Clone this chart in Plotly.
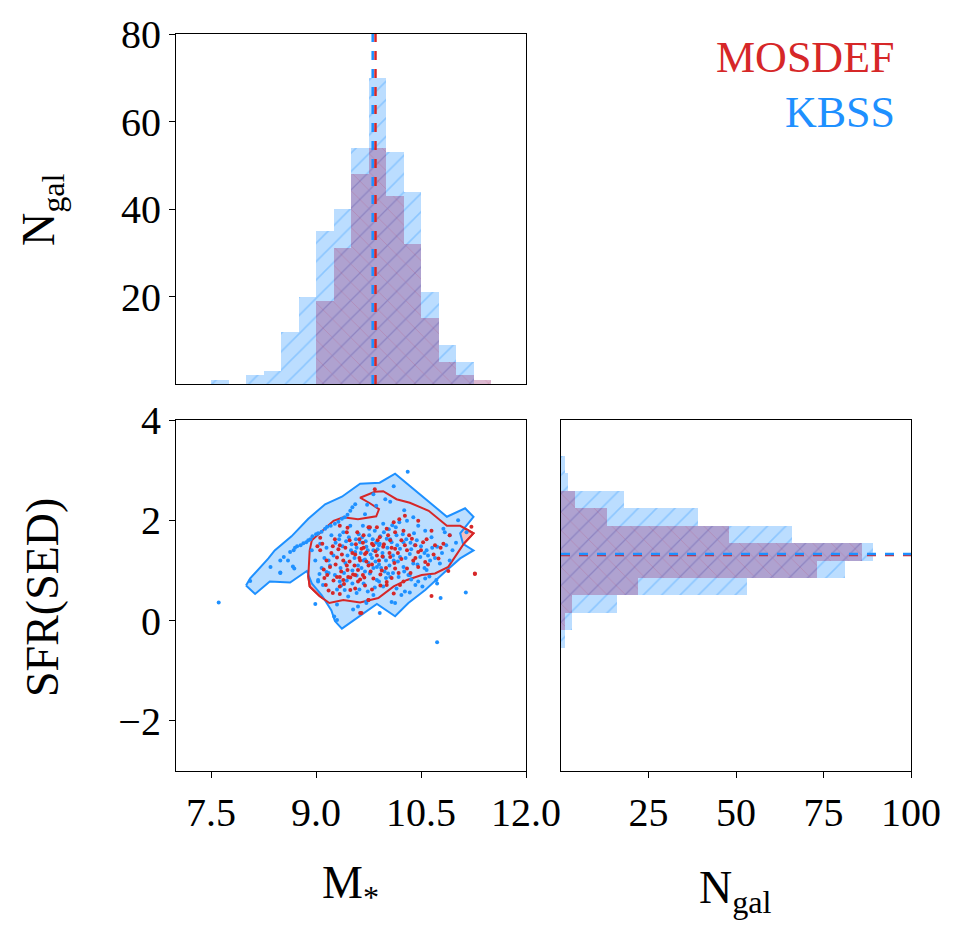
import plotly.graph_objects as go

# ---------------- data ----------------
# stellar-mass histogram (bin edges start 7.5, width 0.25)
MASS_BIN_START = 7.5
MASS_BIN_WIDTH = 0.25
KBSS_MASS_COUNTS = [1, 0, 2, 3, 12, 20, 35, 40, 54, 70, 53, 44, 21, 9, 5, 0]
MOSDEF_MASS_COUNTS = [0, 0, 0, 0, 0, 0, 19, 31, 48, 54, 43, 32, 15, 5, 2, 1]

# SFR histogram (bin edges start -0.54, width 0.3475)
SFR_BIN_START = -0.54
SFR_BIN_WIDTH = 0.3475
KBSS_SFR_COUNTS = [1, 3, 16, 53, 81, 89, 66, 39, 18, 2, 1]
MOSDEF_SFR_COUNTS = [0, 1, 3, 22, 73, 86, 48, 13, 4, 0, 0]

# medians
KBSS_MASS_MED = 9.81
MOSDEF_MASS_MED = 9.85
KBSS_SFR_MED = 1.33
MOSDEF_SFR_MED = 1.31

# contours
KBSS_CONTOUR_M = [8.00, 8.06, 8.32, 8.41, 8.65, 8.89, 9.13, 9.37, 9.63, 9.91, 10.13, 10.87,
                  11.13, 11.25, 11.06, 11.10, 11.25, 11.06, 10.84, 10.56, 10.32, 10.13, 9.87,
                  9.60, 9.37, 9.27, 9.22, 9.08, 8.94, 8.87, 8.63, 8.34, 8.13, 8.00]
KBSS_CONTOUR_SFR = [0.70, 0.84, 1.24, 1.40, 1.68, 2.03, 2.32, 2.47, 2.73, 2.75, 2.93, 2.07,
                    2.24, 2.07, 1.74, 1.53, 1.40, 1.24, 0.97, 0.61, 0.35, 0.085, 0.33,
                    0.06, -0.16, -0.01, 0.20, 0.51, 0.74, 0.99, 0.76, 0.78, 0.53, 0.70]
MOSDEF_CONTOUR_M = [8.91, 8.89, 8.91, 9.05, 9.19, 9.39, 9.63, 9.89, 10.11, 10.30, 10.51, 10.70,
                    10.89, 11.01, 11.11, 11.25, 11.06, 10.87, 10.61, 10.34, 10.15, 9.96, 9.84,
                    9.63, 9.77, 9.90, 9.86, 9.60, 9.39, 9.25, 9.06, 8.94, 8.91]
MOSDEF_CONTOUR_SFR = [1.40, 0.88, 0.68, 0.49, 0.35, 0.41, 0.36, 0.45, 0.68, 0.81, 0.91, 0.94,
                      1.07, 1.33, 1.53, 1.74, 1.89, 1.89, 2.19, 2.35, 2.42, 2.58, 2.57,
                      2.45, 2.34, 2.22, 2.08, 2.02, 2.06, 1.99, 1.76, 1.60, 1.40]

# scatter points
KBSS_M = [7.61, 8.06, 8.35, 8.49, 8.49, 8.54, 8.63, 8.68, 8.70, 8.73, 8.78, 8.82, 8.86, 8.89, 8.92,
          8.95, 9.00, 9.03, 9.08, 9.13, 9.16, 9.21, 9.27, 9.32, 9.37, 9.41, 9.45, 9.49, 9.52, 9.56,
          8.67, 8.60, 8.69, 8.94, 9.06, 9.15, 9.22, 9.34, 9.39, 9.49, 8.99, 9.18, 9.05, 9.03, 9.10,
          9.27, 9.56, 9.63,
          10.31, 10.11, 9.82, 9.99, 10.06, 9.73, 9.86, 9.70, 9.67, 9.76, 9.84, 9.96, 10.26, 10.30,
          10.39, 10.46, 10.56, 10.65, 10.82, 10.84, 10.91, 11.03, 11.15, 10.73, 10.58, 10.41, 10.25,
          10.15, 10.08, 10.01, 9.91, 10.20, 10.34, 10.49, 10.63, 10.77, 10.91, 10.39, 10.25, 10.11,
          9.96, 9.82, 9.72, 9.87, 10.03, 10.18, 10.32, 10.58, 10.72, 9.77, 9.68,
          8.49, 8.99, 9.30, 9.26, 9.30, 9.53, 9.60, 9.72, 9.03, 9.34, 9.46, 9.41, 9.58, 9.15, 9.68,
          9.91, 10.08, 10.13, 10.22, 10.27, 10.34, 10.42, 10.56, 10.73, 10.78, 10.73, 11.14, 9.82,
          9.72, 10.06, 10.15, 9.96, 9.87, 10.34,
          9.65, 9.70, 9.75, 9.80, 9.85, 9.90, 9.95, 10.00, 10.05, 10.10, 9.78, 9.88, 9.93, 10.02,
          9.60, 9.55, 9.50, 9.45, 9.42, 9.35, 9.70, 9.82, 10.17, 10.20, 9.98, 9.52, 9.58,
          9.28, 9.33, 9.38, 9.43, 9.47, 9.51, 9.57, 9.61, 9.66, 9.71, 9.76, 9.81, 9.86, 9.92,
          9.97, 10.04, 10.09, 10.14, 10.19, 10.24, 10.29, 10.35, 10.40, 10.44, 10.50, 10.55, 10.60,
          10.66, 10.70, 10.80, 10.86, 10.95, 11.00, 9.30, 9.36, 9.44, 9.52, 9.62, 9.74, 9.84,
          9.90, 10.00, 10.10, 10.26, 10.36, 10.46, 10.52, 10.62, 9.25, 9.20, 9.12, 9.18, 9.08,
          9.40, 9.58, 9.64, 9.74, 9.90, 10.06, 10.16, 10.28, 10.36, 10.45, 10.55]
KBSS_SFR = [0.36, 0.79, 1.07, 0.96, 1.20, 1.27, 1.37, 1.40, 1.45, 1.48, 1.50, 1.54, 1.56, 1.60, 1.62,
            1.68, 1.72, 1.74, 1.77, 1.83, 1.87, 1.89, 1.93, 1.97, 2.03, 2.06, 2.11, 2.19, 2.26, 2.32,
            1.08, 1.20, 1.04, 1.40, 1.53, 1.45, 1.70, 1.70, 1.76, 1.89, 1.20, 1.20, 0.93, 0.78, 0.71,
            0.91, 1.37, 1.56,
            2.97, 2.68, 2.52, 2.42, 2.37, 2.31, 2.29, 2.12, 1.89, 1.83, 1.79, 1.93, 2.20, 1.99,
            2.06, 1.89, 1.79, 1.66, 1.83, 1.76, 1.70, 2.00, 1.76, 1.47, 1.40, 1.50, 1.56,
            1.70, 1.56, 1.63, 1.53, 1.43, 1.33, 1.27, 1.20, 1.14, 1.20, 1.14, 1.07, 1.20,
            1.27, 1.40, 1.47, 1.07, 0.94, 0.87, 0.91, 1.01, 0.81, 0.94, 1.20,
            0.95, 0.33, 0.32, 0.08, 0.01, 0.22, 0.28, 0.38, 0.81, 0.78, 0.48, 0.61, 0.55, 0.97, 0.74,
            0.15, 0.37, 0.35, 0.51, 0.58, 0.56, 0.71, 0.84, 0.74, 0.45, -0.43, 0.56, 0.51,
            0.35, 0.87, 0.64, 0.68, 0.81, 0.91,
            1.05, 1.22, 1.15, 1.25, 1.18, 1.12, 1.35, 1.20, 1.10, 1.30, 1.32, 1.42, 1.05, 1.45,
            1.10, 1.25, 1.40, 1.30, 1.15, 1.05, 0.98, 1.05, 1.18, 1.27, 0.98, 1.00, 0.90,
            1.55, 1.62, 1.48, 1.58, 1.66, 1.52, 1.62, 1.72, 1.66, 1.58, 1.70, 1.62, 1.55, 1.68,
            1.76, 1.82, 1.90, 1.86, 1.96, 1.72, 1.62, 1.55, 1.74, 1.60, 1.48, 1.35, 1.30,
            1.45, 1.25, 1.35, 1.50, 1.40, 1.55, 0.62, 0.70, 0.80, 0.74, 0.62, 0.58, 0.66,
            0.78, 0.85, 0.95, 0.98, 0.82, 0.78, 0.68, 0.88, 1.30, 1.10, 1.25, 0.95, 1.05,
            0.95, 1.45, 1.35, 1.40, 1.50, 1.62, 1.50, 1.25, 1.42, 1.12, 1.05]
MOSDEF_M = [9.06, 9.09, 9.24, 9.34, 9.44, 9.48, 9.59, 9.30, 9.20, 9.11, 9.06, 9.39, 9.45, 9.49,
            9.34, 9.25, 9.40, 9.56, 9.63, 9.60, 9.69, 9.65, 9.75, 9.02, 9.16, 9.34,
            9.84, 10.11, 10.19, 10.27, 10.01, 9.87, 9.77, 10.13, 10.25, 10.46, 10.65, 10.91, 11.22,
            11.27, 9.91, 10.06, 10.22, 10.37, 10.53, 10.70, 10.82, 9.68, 9.80, 9.96, 10.13, 10.30,
            10.46, 9.70, 9.87, 10.06, 10.22, 10.39, 10.56, 10.75, 9.75, 9.94, 10.13, 10.30, 10.46,
            9.82, 10.01, 10.20, 9.67,
            9.14, 9.18, 9.24, 9.34, 9.34, 9.39, 9.46, 9.56, 9.63, 9.56, 9.75, 9.63, 9.30, 9.49,
            10.65, 11.27, 10.01, 10.11, 9.75, 9.65, 10.25, 10.89,
            9.72, 9.80, 9.90, 9.95, 10.05, 9.85, 9.62, 9.55, 9.48, 10.00, 9.78, 9.68, 10.12, 9.92,
            9.22, 9.27, 9.32, 9.37, 9.42, 9.52, 9.57, 9.62, 9.67, 9.72, 9.82, 9.88, 9.97, 10.03,
            10.08, 10.17, 10.27, 10.33, 10.42, 10.50, 10.58, 10.68, 10.78, 9.28, 9.36, 9.44, 9.53,
            9.60, 9.70, 9.80, 9.92, 10.08, 10.18, 10.35, 10.42, 10.60, 9.15, 9.12, 9.45]
MOSDEF_SFR = [1.65, 1.53, 1.48, 1.89, 1.76, 1.60, 1.76, 1.26, 1.07, 1.02, 1.40, 1.20, 1.01, 0.86,
              0.87, 0.80, 0.73, 1.32, 1.20, 1.01, 0.86, 1.43, 1.86, 1.48, 0.91, 1.50,
              2.62, 1.96, 2.02, 2.09, 1.83, 1.86, 1.86, 1.76, 1.79, 1.99, 1.79, 1.70, 1.87,
              0.94, 1.66, 1.60, 1.60, 1.63, 1.56, 1.50, 1.53, 1.70, 1.53, 1.47, 1.43, 1.40,
              1.37, 1.33, 1.30, 1.27, 1.23, 1.20, 1.17, 1.24, 1.10, 1.00, 1.04, 1.04, 1.07,
              0.84, 0.77, 0.71, 0.91,
              0.71, 0.60, 0.55, 0.53, 0.68, 0.81, 0.87, 0.91, 0.82, 0.64, 0.41, 0.15, 0.87, 0.61,
              0.49, 0.93, 0.71, 0.54, 0.41, 0.15, 0.78, 0.99,
              1.18, 1.12, 1.20, 1.28, 1.35, 1.38, 1.25, 1.10, 1.18, 1.05, 0.98, 1.45, 1.15, 0.92,
              1.35, 1.62, 1.42, 1.32, 1.45, 1.35, 1.52, 1.62, 1.55, 1.36, 1.50, 1.60, 1.52, 1.70,
              1.45, 1.35, 1.50, 1.70, 1.50, 1.40, 1.62, 1.32, 1.45, 1.12, 0.98, 1.10, 0.92,
              0.78, 0.70, 0.62, 0.70, 0.85, 0.95, 0.95, 1.25, 1.12, 1.20, 0.85, 1.85]

# ---------------- styling ----------------
BLUE = "#1E90FF"
RED = "#D62728"
FONT = "Liberation Serif"

mass_centers = [MASS_BIN_START + MASS_BIN_WIDTH * (i + 0.5) for i in range(len(KBSS_MASS_COUNTS))]
sfr_centers = [SFR_BIN_START + SFR_BIN_WIDTH * (i + 0.5) for i in range(len(KBSS_SFR_COUNTS))]

fig = go.Figure()

blue_bar = dict(color="rgba(30,144,255,0.30)",
                pattern=dict(shape="/", fgcolor="rgba(30,144,255,0.6)", size=13,
                             solidity=0.12, fillmode="overlay"),
                line=dict(width=0))
red_bar = dict(color="rgba(150,50,120,0.35)",
               pattern=dict(shape="x", fgcolor="rgba(190,50,90,0.45)", size=13,
                            solidity=0.12, fillmode="overlay"),
               line=dict(width=0))

# top histogram
fig.add_trace(go.Bar(x=mass_centers, y=KBSS_MASS_COUNTS, width=MASS_BIN_WIDTH,
                     marker=blue_bar, xaxis="x", yaxis="y", showlegend=False))
fig.add_trace(go.Bar(x=mass_centers, y=MOSDEF_MASS_COUNTS, width=MASS_BIN_WIDTH,
                     marker=red_bar, xaxis="x", yaxis="y", showlegend=False))

# right histogram
fig.add_trace(go.Bar(y=sfr_centers, x=KBSS_SFR_COUNTS, width=SFR_BIN_WIDTH, orientation="h",
                     marker=blue_bar, xaxis="x3", yaxis="y3", showlegend=False))
fig.add_trace(go.Bar(y=sfr_centers, x=MOSDEF_SFR_COUNTS, width=SFR_BIN_WIDTH, orientation="h",
                     marker=red_bar, xaxis="x3", yaxis="y3", showlegend=False))

# contours
fig.add_trace(go.Scatter(x=MOSDEF_CONTOUR_M, y=MOSDEF_CONTOUR_SFR, mode="lines", fill="toself",
                         fillcolor="#F3BEBE", line=dict(color=RED, width=2),
                         xaxis="x2", yaxis="y2", showlegend=False))
fig.add_trace(go.Scatter(x=KBSS_CONTOUR_M, y=KBSS_CONTOUR_SFR, mode="lines", fill="toself",
                         fillcolor="#BBDEFF", line=dict(color=BLUE, width=2),
                         xaxis="x2", yaxis="y2", showlegend=False))
fig.add_trace(go.Scatter(x=MOSDEF_CONTOUR_M, y=MOSDEF_CONTOUR_SFR, mode="lines",
                         line=dict(color=RED, width=2),
                         xaxis="x2", yaxis="y2", showlegend=False))

# points
fig.add_trace(go.Scatter(x=KBSS_M, y=KBSS_SFR, mode="markers",
                         marker=dict(color=BLUE, size=4, line=dict(width=0)),
                         xaxis="x2", yaxis="y2", showlegend=False))
fig.add_trace(go.Scatter(x=MOSDEF_M, y=MOSDEF_SFR, mode="markers",
                         marker=dict(color=RED, size=4, line=dict(width=0)),
                         xaxis="x2", yaxis="y2", showlegend=False))

# median lines
shapes = [
    dict(type="line", xref="x", yref="y domain", x0=KBSS_MASS_MED, x1=KBSS_MASS_MED, y0=0, y1=1,
         line=dict(color=BLUE, width=2.5, dash="dash")),
    dict(type="line", xref="x", yref="y domain", x0=MOSDEF_MASS_MED, x1=MOSDEF_MASS_MED, y0=0, y1=1,
         line=dict(color=RED, width=2.5, dash="dash")),
    dict(type="line", xref="x3 domain", yref="y3", x0=0, x1=1, y0=MOSDEF_SFR_MED, y1=MOSDEF_SFR_MED,
         line=dict(color=RED, width=2.5, dash="dash")),
    dict(type="line", xref="x3 domain", yref="y3", x0=0, x1=1, y0=KBSS_SFR_MED, y1=KBSS_SFR_MED,
         line=dict(color=BLUE, width=2.5, dash="dash")),
]

W, H = 976, 949
OFF = 8  # page body margin
def px_x(a, b):
    return [(a - OFF) / W, (b - OFF) / W]
def px_y(top, bot):
    return [1 - (bot - OFF) / H, 1 - (top - OFF) / H]
def ppx(x):
    return (x - OFF) / W
def ppy(y):
    return 1 - (y - OFF) / H

axis_common = dict(showline=True, linecolor="black", linewidth=1.2, mirror=True,
                   showgrid=False, zeroline=False, automargin=False,
                   tickfont=dict(family=FONT, size=40, color="black"),
                   ticks="outside", ticklen=6, tickwidth=1.2, tickcolor="black")

title_font = dict(family=FONT, size=46, color="black")
annotations = [
    dict(text="MOSDEF", x=ppx(897), y=ppy(57), xref="paper", yref="paper", xanchor="right",
         yanchor="middle", showarrow=False, font=dict(family=FONT, size=44, color=RED)),
    dict(text="KBSS", x=ppx(897), y=ppy(112), xref="paper", yref="paper", xanchor="right",
         yanchor="middle", showarrow=False, font=dict(family=FONT, size=44, color=BLUE)),
    dict(text="N<sub>gal</sub>", x=ppx(42), y=ppy(210), xref="paper", yref="paper",
         xanchor="center", yanchor="middle", textangle=-90, showarrow=False, font=title_font),
    dict(text="SFR(SED)", x=ppx(42), y=ppy(598), xref="paper", yref="paper",
         xanchor="center", yanchor="middle", textangle=-90, showarrow=False, font=title_font),
    dict(text="M<sub>*</sub>", x=ppx(350), y=ppy(886), xref="paper", yref="paper",
         xanchor="center", yanchor="middle", showarrow=False, font=title_font),
    dict(text="N<sub>gal</sub>", x=ppx(735), y=ppy(891), xref="paper", yref="paper",
         xanchor="center", yanchor="middle", showarrow=False, font=title_font),
]

fig.update_layout(
    template="none",
    width=W, height=H, margin=dict(l=0, r=0, t=0, b=0, autoexpand=False),
    paper_bgcolor="white", plot_bgcolor="white",
    barmode="overlay", bargap=0, showlegend=False,
    shapes=shapes, annotations=annotations,
    xaxis=dict(axis_common, domain=px_x(176, 526), anchor="y", range=[7, 12],
               showticklabels=False, ticks=""),
    yaxis=dict(axis_common, domain=px_y(34, 384), anchor="x", range=[0, 80],
               tickvals=[20, 40, 60, 80]),
    xaxis2=dict(axis_common, domain=px_x(176, 526), anchor="y2", range=[7, 12],
                tickvals=[7.5, 9.0, 10.5, 12.0], tickformat=".1f"),
    yaxis2=dict(axis_common, domain=px_y(420, 771), anchor="x2", range=[-3, 4],
                tickvals=[-2, 0, 2, 4]),
    xaxis3=dict(axis_common, domain=px_x(561, 911), anchor="y3", range=[0, 100],
                tickvals=[25, 50, 75, 100]),
    yaxis3=dict(axis_common, domain=px_y(420, 771), anchor="x3", range=[-3, 4],
                showticklabels=False, ticks=""),
)

fig.write_html("out.html")
